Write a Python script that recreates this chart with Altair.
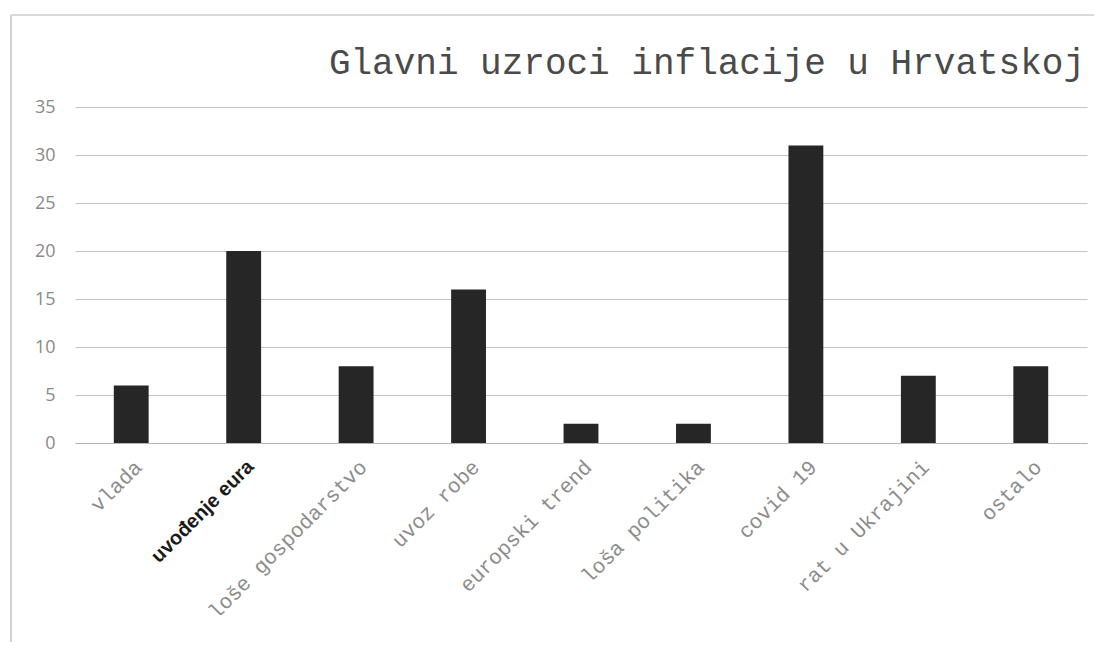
import altair as alt
import pandas as pd

categories = ["vlada", "uvođenje eura", "loše gospodarstvo", "uvoz robe",
              "europski trend", "loša politika", "covid 19", "rat u Ukrajini", "ostalo"]
values = [6, 20, 8, 16, 2, 2, 31, 7, 8]
y_ticks = [0, 5, 10, 15, 20, 25, 30, 35]
title_text = "Glavni uzroci inflacije u Hrvatskoj"

df = pd.DataFrame({"uzrok": categories, "vrijednost": values})
title_df = pd.DataFrame({"naslov": [title_text]})

is_bold = "datum.value === 'uvođenje eura'"

bars = alt.Chart(df).mark_bar(color="#262626").encode(
    x=alt.X("uzrok:N", sort=categories, title=None,
            scale=alt.Scale(paddingInner=0.69, paddingOuter=0.345),
            axis=alt.Axis(
                labelAngle=-45,
                labelFont={"condition": {"test": is_bold, "value": "Liberation Sans"},
                           "value": "Liberation Mono"},
                labelFontWeight={"condition": {"test": is_bold, "value": "bold"},
                                 "value": "normal"},
                labelColor={"condition": {"test": is_bold, "value": "#1a1a1a"},
                            "value": "#8c8c8c"},
                labelFontSize={"condition": {"test": is_bold, "value": 20},
                               "value": 21},
                labelPadding=13,
                ticks=False,
                domain=True,
                domainColor="#b5b5b5",
                domainWidth=1.2,
                grid=False,
            )),
    y=alt.Y("vrijednost:Q", title=None,
            scale=alt.Scale(domain=[0, 35], nice=False),
            axis=alt.Axis(values=y_ticks, ticks=False, domain=False,
                          gridColor="#c4c4c4", gridWidth=1.2,
                          labelFont="Open Sans", labelFontSize=18,
                          labelColor="#8a8a8a", labelPadding=20)),
)

title = alt.Chart(title_df).mark_text(
    font="Liberation Mono", fontSize=36, color="#4a4a4a",
    align="right", baseline="alphabetic").encode(
    text="naslov:N", x=alt.value(1010), y=alt.value(-33))

frame_left = alt.Chart(df).mark_rule(color="#d0d0d0", strokeWidth=1.5).encode(
    x=alt.value(-64), y=alt.value(-92), y2=alt.value(560))
frame_top = alt.Chart(df).mark_rule(color="#d8d8d8", strokeWidth=1.5).encode(
    x=alt.value(-64), x2=alt.value(1027), y=alt.value(-92))

chart = alt.layer(frame_left, frame_top, bars, title).properties(
    width=1012,
    height=336,
    autosize=alt.AutoSizeParams(type="none"),
    padding={"left": 67, "top": 99, "right": 7, "bottom": 199},
).configure_view(stroke=None).configure_axis(labelLimit=400)

chart.save("out.html", embed_options={"renderer": "svg", "actions": False})
